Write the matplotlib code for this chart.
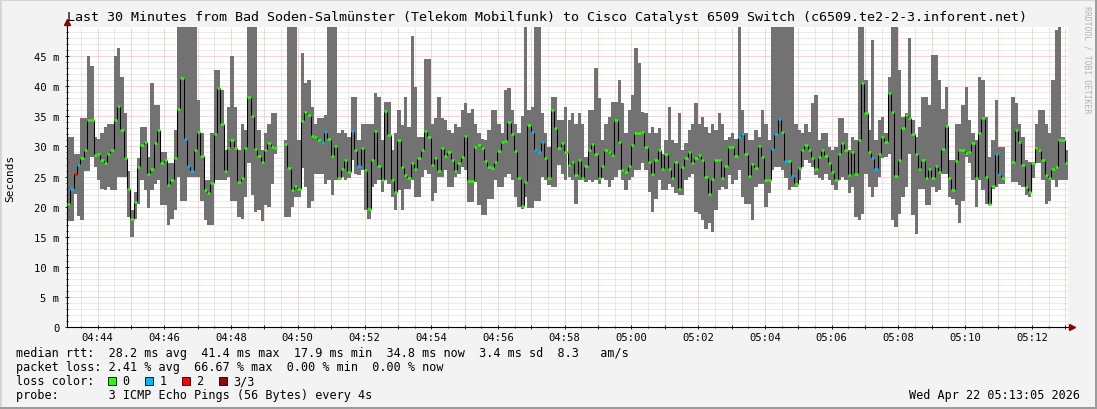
import numpy as np
import matplotlib
matplotlib.use("Agg")
import matplotlib.pyplot as plt
import matplotlib.dates as mdates
from matplotlib.patches import Rectangle
from matplotlib.ticker import MultipleLocator, FuncFormatter

W, H = 1097, 410
MONO = "DejaVu Sans Mono"
plt.rcParams.update({"font.family": MONO, "font.size": 8.5})

nan = np.nan
START = np.datetime64("2026-04-22T04:43:05")
STEP_S = 6  # one drawn sample = 6 s of the 30 min window

# rtt per sample in ms: fastest ping, median, slowest ping (>= 50 runs off the top)
rtt_min = [
    17.6, 17.6, 22.1, 18.5, 17.7, 26, 26, 28.3, 26.6, 24.4, 23, 22.7, 23.3, 22.7, 22.7, 25, 25,
    25, 18.3, 14.9, 18, 20.5, 24.4, 22.7, 19.7, 22.7, 23.8, 24.4, 20.2, 20.2, 16.9, 18, 19.4, 25,
    21, 21, 25, 25, 25, 25, 21, 17.7, 16.9, 16.9, 24.4, 24.4, 24.4, 24.4, 25, 21, 21,
    18.3, 18, 21.6, 27.2, 21.9, 19.1, 19.4, 17.6, 20.2, 19.9, 23.8, 28.8, nan, nan, 18.3, 18.3,
    19.9, 21.6, 21.6, 26.4, 23.3, 19.7, 21, 25.5, 25.5, 25.5, 23.8, 24.4, 21.9, 24.4, 24.4, 24.9,
    24.4, 24.8, 27.7, 25.5, 25.3, 26.1, 19.4, 18, 23.3, 23.8, 24.4, 22.4, 24.4, 23.8, 21.6, 19.4,
    22.7, 19.4,
    23, 23, 24.4, 21.6, 21.6, 24.9, 26.1, 25.5, 21, 22.2, 24.9, 24.9, 26.1, 23.3, 23.3, 24.9, 25.5,
    26.6, 26.1, 20.8, 20.8, 24.1, 20.2, 18.6, 18.6, 21.3, 21.3, 24.4, 23.3, 23.3, 24.9, 25.5, 24.4,
    21.6, 19.9, 19.6, 21.6, 19.7, 19.7, 21, 21, 24.9, 24.4, 23.6, 23.3, 23.3, 26.9, 25.5, 24.4, 24.9,
    24.4, 20.5, 24.4, 24.4, 24.1, 24.4, 24.1, 24.4, 23.8, 24.7, 24.4, 23.3, 24.4, 24.9, 26.1, 24.4,
    22.7, 24.4, 24.9, 26.1, 26.1, 27.2, 26.1, 22.4, 19.1, 21.3, 24.4, 22.7, 22.7, 23.8, 23.3, 22.2,
    21.9, 21.9, 24.4, 24.9, 25.5, 19.1, 18.8, 17.7, 16.3, 17.2, 15.8, 19.4, 22.7, 23.3, 23, 25.2,
    23.8, 24.4,
    26.1, 21.6, 20.5, 20.5, 17.7, 23.3, 23.8, 23.8, 19.9, 22.2, 26.1, 26.6, 26.6, 26.1, 24.7, 22.7,
    23.3, 23.3, 24.4, 26.6, 27.7, 27.2, 26.6, 25.2, 24.7, 24.4, 25.5, 24.4, 23.6, 22.7, 24.4, 24.9,
    24.4, 22.2, 23.3, 18.3, 17.7, 18.8, 25.5, 23.3, 21.6, 23.3, 24.9, 28, 28.3, 28.8, 17.7, 16.6,
    18.8, 21.6, 23.3,
    28.8, 18.6, 15.5, 23, 23, 20.2, 20.2, 23.3, 22.4, 22.7, 25.5, 25.5, 21.6, 21.3, 20.2, 17.2, 21,
    28.3, 27.2, 24.4, 19.9, 24.4, 22.7, 20.5, 20.2, 23, 23.3, 23.8, 23.8, nan, nan, 24.1, 24.1,
    23.6, 23.3, 21.9, 21.6, 24.7, 27.2, 27.2, 24.4, 20.5, 21, 24.4, 23.3, 24.4, 24.4, 24.4,
]
rtt_med = [
    20.5, 23, 25.5, 26.9, 28, 29.4, 34.4, 34.4, 28.6, 28.7, 27.7, 27.2, 28.8, 29.4, 34.4, 36.7,
    32.7, 28, 22.9, 17.9, 20.8, 26.6, 30.2, 30.8, 25.5, 26.3, 30.5, 32.7, 27.2, 27.7, 23.6, 24.4,
    28, 36.2, 41.4, 31.2, 26.7, 25.9, 29.4, 32.4, 28.4, 22.7, 22.2, 23.9, 32, 39.7, 33.8, 26, 29.7,
    31, 29.7,
    24.1, 24.8, 29.8, 38.2, 35, 29.5, 28.4, 27.4, 29.4, 30.6, 29.9, 29.7, nan, nan, 30.4, 26.5,
    22.8, 23.4, 22.9, 34.2, 35.8, 35.2, 31.8, 31.5, 31.1, 30.8, 32.4, 31.3, 28.4, 30.1, 24.8, 26.2,
    27.7, 25.8, 32.6, 29.4, 26.7, 29.8, 26.1, 19.6, 27.7, 32.6, 26.7, 24.5, 35.9, 31.9, 24.4, 22.4,
    31.1, 26.6,
    25.2, 24.8, 27.2, 26.2, 28, 29.4, 32.6, 31.6, 26.9, 28, 25.9, 29.8, 28.4, 29, 27.8, 25.9, 27.2,
    28.2, 31.7, 24.2, 24.2, 29.9, 30.2, 29.8, 27.6, 26.6, 26.5, 27.4, 29.2, 30.8, 30.9, 34, 32,
    29.2, 24.8, 20.1, 24.1, 33.6, 32.4, 29.4, 29.1, 30.8, 28, 24.7, 36.1, 33, 29.8, 30.5, 29.1, 26.9,
    27.4, 25.2, 27.7, 24.8, 26.7, 29.4, 30.4, 28.8, 24.8, 26.7, 29.4, 29.1, 28.6, 34.4, 30.7, 26.1,
    25.8, 26.7, 30.2, 32.3, 32.2, 32.4, 29.9, 27.4, 25.5, 27.7, 29.4, 26.3, 28.8, 26.3, 24.7, 27.4,
    23, 26.6, 28, 29.1, 27.2, 28.1, 28.6, 27.7, 24.9, 22.1, 24.6, 27.7, 27.7, 24.8, 26.7, 29.9,
    29.9, 28.4,
    31.6, 32, 28.7, 25.1, 27.1, 26.5, 30.1, 28.3, 24.4, 24.4, 29.5, 32.1, 34.5, 32.4, 27.6, 27.6,
    25.1, 23.8, 26.5, 29.4, 30.2, 29.4, 28, 26.2, 28.3, 29.4, 28.4, 27.2, 25.8, 24.5, 28.8, 30.5,
    29.4, 25.2, 29.1, 25.4, 31.1, 40.5, 35.5, 29.1, 28, 26.3, 28.8, 31.6, 30.8, 38.8, 35.8, 25.1,
    27.8, 33, 35.2,
    34.7, 32, 28.8, 26.3, 27.7, 24.8, 26.3, 24.8, 26.7, 25.8, 29.5, 33.4, 24.8, 22.7, 27.6, 29.4,
    29.4, 28.9, 29.1, 30.6, 24.8, 32.2, 34.7, 24.9, 20.5, 23.4, 28.7, 25.5, 24.7, nan, nan, 27.4,
    32.7, 30.8, 26.9, 23.3, 22.4, 27.2, 29.8, 29.4, 27.7, 25.2, 24.8, 26.3, 26.6, 31.1, 31.1, 27.2,
]
rtt_max = [
    31.5, 31.5, 28.8, 28.8, 34.7, 34.7, 45, 43.3, 31.6, 31.3, 32.2, 33.3, 33.8, 33.8, 45, 46.3,
    41.6, 35.5, 26, 19.4, 22.4, 28, 33.3, 33.3, 28.3, 40.5, 36.9, 36.9, 29.1, 29.1, 27.2, 27.2,
    32.7, 60, 60, 60, 60, 60, 60, 37.7, 32.2, 24.4, 24.4, 32.2, 42.7, 42.7, 39.4, 29.4, 36.6, 45,
    36.6,
    29.4, 33.8, 32.8, 60, 60, 60, 32.7, 29.4, 32.2, 33.8, 35.5, 35.5, nan, nan, 31, 60, 60, 60,
    31.1, 45.5, 40.5, 41.1, 36.6, 33.8, 34.7, 34.7, 35.2, 60, 60, 60, 32.2, 32.7, 32.2, 31.6, 38.3,
    38.3, 31.1, 33.8, 33.8, 33.8, 33.8, 38.8, 38.3, 31, 37.4, 37.4, 29.4, 32.2, 36.1, 33.6,
    38.3, 33.3, 48.3, 39.9, 31.6, 31.6, 44.5, 44.5, 33.8, 34.7, 38.2, 34.7, 34.4, 32.7, 32.2, 33.8,
    33.3, 36.1, 37.2, 35.5, 36.3, 33.8, 32.2, 31.3, 31.1, 32.7, 36.1, 36.1, 33.8, 32.2, 39.4, 39.7,
    36.1, 33.8, 32.2, 35, 60, 36.1, 36.5, 60, 60, 35.5, 32.2, 29.9, 38.3, 38.3, 34.4, 34.4, 36.6,
    34.4,
    35.5, 33.8, 35.5, 33.8, 28.3, 36.1, 36.1, 43, 38, 31.1, 33.8, 34.9, 37.4, 37.4, 41.1, 37.2,
    32.2, 36.1, 38.6, 46.3, 43.8, 35.8, 35.5, 32.2, 33.3, 32.2, 33, 28.8, 31.1, 36.6, 31.1, 30.5,
    35.5, 29.4, 30.5, 32.7, 33.8, 37.2, 33.8, 34.9, 33.3, 32.2, 33.8, 32.7, 35.5, 33.8, 31.1, 31.6,
    32.2, 31.3,
    60, 36.1, 32.2, 31.1, 31.1, 32.7, 31.6, 36.1, 33.8, 31.1, 60, 60, 60, 60, 60, 60, 60, 33.8,
    32.7, 32.2, 33.8, 32.4, 37.2, 38.6, 31.1, 32.2, 32.2, 29.9, 29.4, 29.9, 34.7, 34.7, 32.2, 29.4,
    31.6, 31.1, 60, 60, 41.1, 32.7, 47.7, 31.1, 34.4, 34.9, 32.2, 41.6, 60, 60, 42.7, 34.9, 35.5,
    48, 34.4, 31.6, 33.3, 38.3, 38.3, 36.9, 45.2, 45.2, 41.1, 36.3, 39.9, 27.7, 27.7, 33.8, 33.8,
    36.9, 39.9, 34.4, 32.2, 31.1, 41.6, 41.1, 34.9, 28.3, 31.1, 37.7, 29.9, 29.9, nan, nan, 38.3,
    37.2, 33.8, 31.6, 27.7, 27.4, 27.4, 33.8, 36.1, 36.1, 33.8, 32.2, 41.1, 49.4, 50.5, 31.6, 29.4,
]
# samples where 1 or 2 of the 3 pings were lost
loss_1 = [1, 3, 35, 36, 37, 76, 77, 85, 87, 139, 140, 141, 142, 201, 202, 211, 212, 213, 215,
          217, 241, 242, 278, 279]
loss_2 = [2]

LOSS_COLORS = ["#26ff00", "#00b8ff", "#ff0000", "#a00000"]
LOSS_LABELS = ["0", "1", "2", "3/3"]

TITLE = ("Last 30 Minutes from Bad Soden-Salmünster (Telekom Mobilfunk) to Cisco Catalyst "
         "6509 Switch (c6509.te2-2-3.inforent.net)")
LEGEND_LINES = [
    "median rtt:  28.2 ms avg  41.4 ms max  17.9 ms min  34.8 ms now  3.4 ms sd  8.3   am/s",
    "packet loss: 2.41 % avg  66.67 % max  0.00 % min  0.00 % now",
    "loss color:",
    "probe:       3 ICMP Echo Pings (56 Bytes) every 4s",
]
STAMP = "Wed Apr 22 05:13:05 2026"


def fy(py):
    return 1 - py / H


lo, med, hi = np.array(rtt_min), np.array(rtt_med), np.array(rtt_max)
n = len(med)
loss = np.zeros(n, dtype=int)
loss[loss_1] = 1
loss[loss_2] = 2
edges = mdates.date2num(START + np.arange(n + 1) * np.timedelta64(STEP_S, "s"))

fig = plt.figure(figsize=(W / 100, H / 100), dpi=100, facecolor="#f3f3f3")
ax = fig.add_axes([67 / W, 82 / H, 1001 / W, 300 / H], facecolor="white")

# smoke
ax.bar(edges[:-1], hi - lo, bottom=lo, width=np.diff(edges), align="edge",
       color="#727272", linewidth=0, antialiased=False, zorder=2)
# median: black risers, loss-coloured treads
ok = ~np.isnan(med[:-1]) & ~np.isnan(med[1:])
ax.vlines(edges[1:-1][ok], np.fmin(med[:-1], med[1:])[ok], np.fmax(med[:-1], med[1:])[ok],
          colors="black", lw=0.75, zorder=3)
v = ~np.isnan(med)
ax.hlines(med[v], edges[:-1][v], edges[1:][v], colors=[LOSS_COLORS[k] for k in loss[v]],
          lw=1.8, zorder=4)

ax.set_xlim(edges[0], edges[-1])
ax.set_ylim(0, 49.85)
ax.set_axisbelow(True)


def xlab(val, pos):
    d = mdates.num2date(val + 1e-7)
    return d.strftime("%H:%M") if d.minute % 2 == 0 else ""


ax.xaxis.set_major_locator(mdates.MinuteLocator())
ax.xaxis.set_major_formatter(FuncFormatter(xlab))
ax.xaxis.set_minor_locator(mdates.SecondLocator(bysecond=[30]))
ax.yaxis.set_major_locator(MultipleLocator(5))
ax.yaxis.set_minor_locator(MultipleLocator(1))
ax.yaxis.set_major_formatter(FuncFormatter(lambda v, p: "0" if v == 0 else f"{v:.0f} m"))
ax.grid(which="major", color="#f2acac", ls=(0, (1, 1)), lw=0.72)
ax.grid(which="minor", color="#d6d6d6", ls=(0, (1, 1)), lw=0.72)
ax.tick_params(which="both", direction="inout", color="black", width=0.6, labelsize=7.6)
ax.tick_params(which="major", length=3, pad=2)
ax.tick_params(which="minor", length=2)
ax.tick_params(axis="y", pad=4)
for s in ("top", "right"):
    ax.spines[s].set_visible(False)
for s in ("left", "bottom"):
    ax.spines[s].set_linewidth(0.8)

# axis arrows
ax.plot([0, 0], [1, 1.015], transform=ax.transAxes, color="black", lw=0.8, clip_on=False)
ax.plot(0, 1.017, marker="^", ms=4, color="#8b0000", transform=ax.transAxes, clip_on=False)
ax.plot([1, 1.002], [0, 0], transform=ax.transAxes, color="black", lw=0.8, clip_on=False)
ax.plot(1.004, 0, marker=">", ms=4, color="#8b0000", transform=ax.transAxes, clip_on=False)

fig.text(547 / W, fy(18), TITLE, ha="center", va="center", fontsize=9.6)
fig.text(10 / W, fy(178), "Seconds", rotation=90, ha="center", va="center", fontsize=8)
fig.text(1087 / W, fy(60), "RRDTOOL / TOBI OETIKER", rotation=270, ha="center", va="center",
         fontsize=5.9, color="#b4b4b4")

for k, line in enumerate(LEGEND_LINES):
    fig.text(16 / W, fy(354 + 14 * k), line, ha="left", va="center", fontsize=8.5)
for j, (c, lab) in enumerate(zip(LOSS_COLORS, LOSS_LABELS)):
    bx = 108 + 37 * j
    fig.patches.append(Rectangle((bx / W, fy(386)), 8 / W, 8 / H, transform=fig.transFigure,
                                 facecolor=c, edgecolor="black", lw=0.6))
    fig.text((bx + 14.5) / W, fy(382), lab, ha="left", va="center", fontsize=8.5)
fig.text(1080 / W, fy(396), STAMP, ha="right", va="center", fontsize=8.5)

# bevelled frame
for (x0, y0, w, h, c) in [(0, 0, 2, H, "#d6d6d6"), (0, H - 2, W, 2, "#d6d6d6"),
                          (W - 2, 0, 2, H, "#9c9c9c"), (0, 0, W, 2, "#9c9c9c")]:
    fig.patches.append(Rectangle((x0 / W, y0 / H), w / W, h / H, transform=fig.transFigure,
                                 facecolor=c, edgecolor="none"))

fig.savefig("out.png", dpi=100, facecolor=fig.get_facecolor())
